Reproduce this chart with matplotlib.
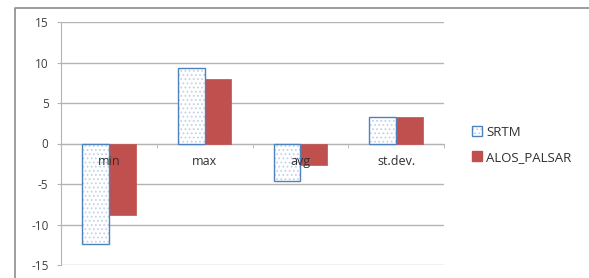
import matplotlib
matplotlib.use("Agg")
import matplotlib.pyplot as plt
from matplotlib.lines import Line2D
from matplotlib.patches import Patch
import numpy as np

categories = ["min", "max", "avg", "st.dev."]
srtm = [-12.35, 9.38, -4.6, 3.28]
alos = [-8.77, 8.02, -2.68, 3.22]
yticks = [-15, -10, -5, 0, 5, 10, 15]

plt.rcParams['font.family'] = ['Open Sans', 'DejaVu Sans']
plt.rcParams['hatch.linewidth'] = 0.8

W, H = 589, 278
fig = plt.figure(figsize=(W / 100, H / 100), dpi=100)
ax = fig.add_axes([61 / W, (H - 265) / H, (444 - 61) / W, (265 - 22) / H])

x = np.arange(len(categories))
bw = 0.28
# SRTM: dotted fill plus blue outline
ax.bar(x - bw / 2, srtm, bw, color="white", edgecolor="#c3d3e9", hatch="....", linewidth=0, zorder=3)
ax.bar(x - bw / 2, srtm, bw, fill=False, edgecolor="#4f81bd", linewidth=1.0, zorder=4)
ax.bar(x + bw / 2, alos, bw, color="#c0504d", edgecolor="#c0504d", linewidth=0.5, zorder=3)

ax.set_xlim(-0.5, len(categories) - 0.5)
ax.set_ylim(-15, 15)
ax.set_yticks(yticks)
ax.set_yticklabels([str(v) for v in yticks], fontsize=8.5, color="#404040")
ax.yaxis.grid(True, color="#b4b4b4", linewidth=1.0, zorder=0)
ax.tick_params(axis="y", length=3, color="#b4b4b4", pad=6)

for s in ["top", "right"]:
    ax.spines[s].set_visible(False)
ax.spines["left"].set_color("#b4b4b4")
ax.spines["bottom"].set_position(("data", 0))
ax.spines["bottom"].set_color("#b4b4b4")
ax.spines["bottom"].set_zorder(2)

ax.set_xticks(x)
ax.set_xticklabels(categories, fontsize=9, color="#303030")
ax.tick_params(axis="x", length=0, pad=8)
ax.set_xticks(np.arange(len(categories) + 1) - 0.5, minor=True)
ax.tick_params(axis="x", which="minor", length=3, color="#b4b4b4", direction="out")
ax.xaxis.set_zorder(5)

# outer chart frame (left and top only)
fig.add_artist(Line2D([14.5 / W, 14.5 / W, 1.0], [0, (H - 7.5) / H, (H - 7.5) / H],
                      transform=fig.transFigure, color="#8c8c8c", linewidth=1.2))

srtm_handle = (Patch(facecolor="white", edgecolor="#c3d3e9", hatch="....", linewidth=0),
               Patch(fill=False, edgecolor="#4f81bd", linewidth=1.0))
handles = [srtm_handle, Patch(facecolor="#c0504d", edgecolor="#c0504d")]
fig.legend(handles, ["SRTM", "ALOS_PALSAR"], loc="upper left",
           bbox_to_anchor=(460 / W, (H - 114) / H), frameon=False, fontsize=9.5,
           handlelength=0.75, handleheight=0.75, handletextpad=0.35, labelspacing=0.9,
           labelcolor="#303030")

fig.savefig("out.png", dpi=100)
